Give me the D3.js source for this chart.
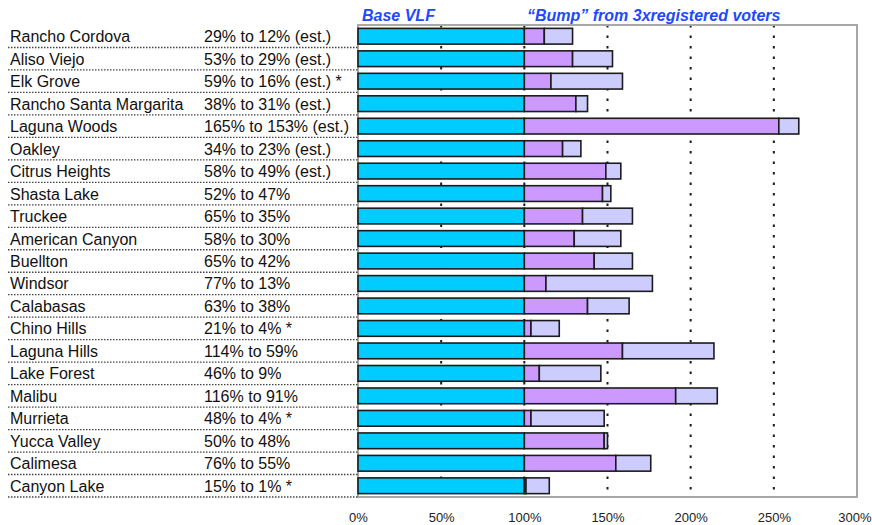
<!DOCTYPE html>
<html>
<head>
<meta charset="utf-8">
<script src="https://cdn.jsdelivr.net/npm/d3@7"></script>
<style>
  body { margin: 0; background: #fff; }
  text { font-family: "Liberation Sans", Arial, sans-serif; }
</style>
</head>
<body>
<div id="chart"></div>
<script>
const cities = ['Rancho Cordova', 'Aliso Viejo', 'Elk Grove', 'Rancho Santa Margarita', 'Laguna Woods',
  'Oakley', 'Citrus Heights', 'Shasta Lake', 'Truckee', 'American Canyon', 'Buellton', 'Windsor',
  'Calabasas', 'Chino Hills', 'Laguna Hills', 'Lake Forest', 'Malibu', 'Murrieta', 'Yucca Valley',
  'Calimesa', 'Canyon Lake']
// bump with 3x registered voters (first figure) and what is left of it (second figure), in %
const bumpFrom = [29, 53, 59, 38, 165, 34, 58, 52, 65, 58, 65, 77, 63, 21, 114, 46, 116, 48, 50, 76, 15]
const bumpTo = [12, 29, 16, 31, 153, 23, 49, 47, 35, 30, 42, 13, 38, 4, 59, 9, 91, 4, 48, 55, 1]
const notes = ['(est.)', '(est.)', '(est.) *', '(est.)', '(est.)', '(est.)', '(est.)', '', '', '', '',
  '', '', '*', '', '', '', '*', '', '', '*']
const baseVLF = 100
const tickValues = [0, 50, 100, 150, 200, 250, 300]
const tickLabels = ['0%', '50%', '100%', '150%', '200%', '250%', '300%']

const w = 872
const h = 525

const rows = cities.map((c, i) => ({
  city: c,
  base: baseVLF,
  to: baseVLF + bumpTo[i],
  from: baseVLF + bumpFrom[i],
  label: bumpFrom[i] + '% to ' + bumpTo[i] + '%' + (notes[i] ? ' ' + notes[i] : '')
}))

const xScale = d3.scaleLinear()
                 .domain([0, 300])
                 .range([358, 857])

const yScale = d3.scaleBand()
                 .domain(cities)
                 .range([25, 497])
                 .paddingInner(0.3)
                 .paddingOuter(0.15)

const step = yScale.step()

const svg = d3.select('#chart')
              .append('svg')
              .attr('width', w)
              .attr('height', h)

// dotted grid lines behind the bars
svg.append('g')
   .selectAll('line')
   .data(tickValues.filter(t => t > 0 && t < 300))
   .enter()
   .append('line')
   .attr('x1', d => xScale(d))
   .attr('x2', d => xScale(d))
   .attr('y1', 25)
   .attr('y2', 497)
   .style('stroke', '#1a1a1a')
   .style('stroke-width', 2)
   .style('stroke-dasharray', '2.5,8')

// plot frame
svg.append('rect')
   .attr('x', xScale(0))
   .attr('y', 25)
   .attr('width', xScale(300) - xScale(0))
   .attr('height', 472)
   .style('fill', 'none')
   .style('stroke', '#a8a8a8')
   .style('stroke-width', 2)

// row separators under the labels
svg.append('g')
   .selectAll('line')
   .data(cities)
   .enter()
   .append('line')
   .attr('x1', 8)
   .attr('x2', xScale(0))
   .attr('y1', d => yScale(d) - step * 0.15 + step)
   .attr('y2', d => yScale(d) - step * 0.15 + step)
   .style('stroke', '#444')
   .style('stroke-width', 1.3)
   .style('stroke-dasharray', '1.5,1.5')

const bars = svg.append('g')
                .selectAll('g')
                .data(rows)
                .enter()
                .append('g')

const segment = (cls, color, x0, x1) => {
  bars.append('rect')
      .attr('class', cls)
      .attr('x', d => xScale(x0(d)))
      .attr('y', d => yScale(d.city))
      .attr('width', d => xScale(x1(d)) - xScale(x0(d)))
      .attr('height', yScale.bandwidth())
      .style('fill', color)
      .style('stroke', '#1c1c1c')
      .style('stroke-width', 1.6)
}

segment('base', '#00ccff', d => 0, d => d.base)
segment('left', '#cc99ff', d => d.base, d => d.to)
segment('lost', '#ccccff', d => d.to, d => d.from)

// labels on the left
bars.append('text')
    .text(d => d.city)
    .attr('x', 10)
    .attr('y', d => yScale(d.city) + yScale.bandwidth() / 2 + 6)
    .style('font-size', '16px')
    .style('fill', '#111')

bars.append('text')
    .text(d => d.label)
    .attr('x', 204)
    .attr('y', d => yScale(d.city) + yScale.bandwidth() / 2 + 6)
    .style('font-size', '16px')
    .style('fill', '#111')

const xAxis = d3.axisBottom(xScale)
                .tickValues(tickValues)
                .tickFormat((d, i) => tickLabels[i])
                .tickSize(0)
                .tickPadding(0)

svg.append('g')
   .attr('id', 'x-axis')
   .attr('transform', 'translate(0, 512.5)')
   .call(xAxis)
   .call(g => g.select('.domain').remove())
   .selectAll('text')
   .style('font-size', '13px')
   .style('fill', '#222')
   .filter((d, i) => i === tickValues.length - 1)
   .attr('text-anchor', 'end')
   .attr('x', w - 1 - xScale(300))

svg.append('text')
   .text('Base VLF')
   .attr('x', 362)
   .attr('y', 21)
   .style('font-size', '16px')
   .style('font-weight', 'bold')
   .style('font-style', 'italic')
   .style('fill', '#2148ff')

svg.append('text')
   .text('\u201cBump\u201d from 3xregistered voters')
   .attr('x', 527)
   .attr('y', 21)
   .style('font-size', '16px')
   .style('font-weight', 'bold')
   .style('font-style', 'italic')
   .style('fill', '#2148ff')
</script>
</body>
</html>
